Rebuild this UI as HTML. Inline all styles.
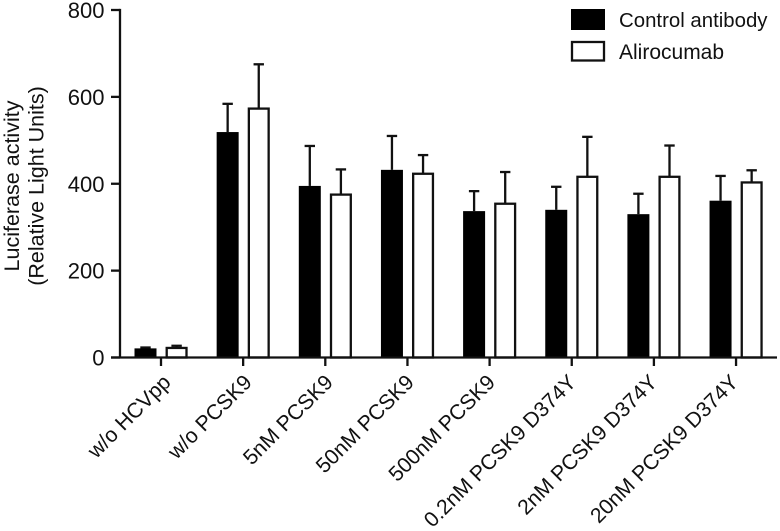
<!DOCTYPE html>
<html>
<head>
<meta charset="utf-8">
<title>Luciferase activity chart</title>
<style>
html,body{margin:0;padding:0;background:#fff;}
svg{display:block;font-family:"Liberation Sans",Arial,sans-serif;fill:#111;}
</style>
</head>
<body>
<svg id="chart" xmlns="http://www.w3.org/2000/svg" width="780" height="531" viewBox="0 0 780 531"></svg>
<script>
const categories = ["w/o HCVpp","w/o PCSK9","5nM PCSK9","50nM PCSK9","500nM PCSK9","0.2nM PCSK9 D374Y","2nM PCSK9 D374Y","20nM PCSK9 D374Y"];
const controlValues = [21,519,395,432,337,340,330,361];
const controlErrors = [2,65,92,78,46,53,47,57];
const alirocumabValues = [22,573,375,423,354,416,416,403];
const alirocumabErrors = [5,102,58,43,73,92,72,28];
const yTicks = [0,200,400,600,800];
const seriesNames = ["Control antibody","Alirocumab"];

const svg = document.getElementById('chart');
const NS = 'http://www.w3.org/2000/svg';
const yScale = v => 357.5 - v * 347.5 / 800;
const xScale = i => 161 + i * 82.15;
const labelX = i => 172 + i * 81.08;
const INK = '#111';

function add(tag, attrs, text) {
  const el = document.createElementNS(NS, tag);
  for (const k in attrs) el.setAttribute(k, attrs[k]);
  if (text !== undefined) el.textContent = text;
  svg.appendChild(el);
  return el;
}

// y-axis
let el = add('line', {x1:120, x2:120, y1:yScale(800)-1.1, y2:yScale(0), stroke:INK, 'stroke-width':2.3});


yTicks.forEach(t => {
  const y = yScale(t);
  const tick = add('line', {x1:111, x2:120, y1:y, y2:y, stroke:INK, 'stroke-width':2.3});
  
  
  const lab = add('text', {x:104.5, y:y+8, 'text-anchor':'end', 'font-size':22}, String(t));
  
  
});

// y-axis title
el = add('text', {transform:'translate(19,186) rotate(-90)', 'text-anchor':'middle', 'font-size':21.5}, 'Luciferase activity');


el = add('text', {transform:'translate(43.5,186) rotate(-90)', 'text-anchor':'middle', 'font-size':21.5}, '(Relative Light Units)');



function errorBar(cx, value, err, name) {
  const top = yScale(value + err);
  const stem = add('line', {x1:cx, x2:cx, y1:yScale(value), y2:top, stroke:INK, 'stroke-width':2.3});
  
  
  const cap = add('line', {x1:cx-5.2, x2:cx+5.2, y1:top, y2:top, stroke:INK, 'stroke-width':2.3});
  
  
}

// bars
categories.forEach((c, i) => {
  const cx = xScale(i);
  const cb = cx - 15.5, ab = cx + 15.6;
  errorBar(cb, controlValues[i], controlErrors[i], 'control');
  errorBar(ab, alirocumabValues[i], alirocumabErrors[i], 'alirocumab');
  const b1 = add('rect', {x:cb-11, y:yScale(controlValues[i]), width:22, height:yScale(0)-yScale(controlValues[i]), fill:'#000'});
  
  
  const b2 = add('rect', {x:ab-9.9, y:yScale(alirocumabValues[i]), width:19.8, height:yScale(0)-yScale(alirocumabValues[i]), fill:'#fff', stroke:INK, 'stroke-width':2.3});
  
  
  const tick = add('line', {x1:cx, x2:cx, y1:yScale(0), y2:366, stroke:INK, 'stroke-width':2.3});
  
  
  const lab = add('text', {transform:'translate('+labelX(i)+',383.5) rotate(-45)', 'text-anchor':'end', 'font-size':21.2}, c);
  
  
});

// x-axis
el = add('line', {x1:111, x2:777, y1:yScale(0), y2:yScale(0), stroke:INK, 'stroke-width':2.3});



// legend
el = add('rect', {x:571, y:9, width:34, height:21, fill:'#000'});


el = add('text', {x:619, y:27, 'font-size':20.4}, seriesNames[0]);


el = add('rect', {x:572, y:42, width:32, height:18.5, fill:'#fff', stroke:INK, 'stroke-width':2.3});


el = add('text', {x:619, y:59, 'font-size':21}, seriesNames[1]);


</script>
</body>
</html>
